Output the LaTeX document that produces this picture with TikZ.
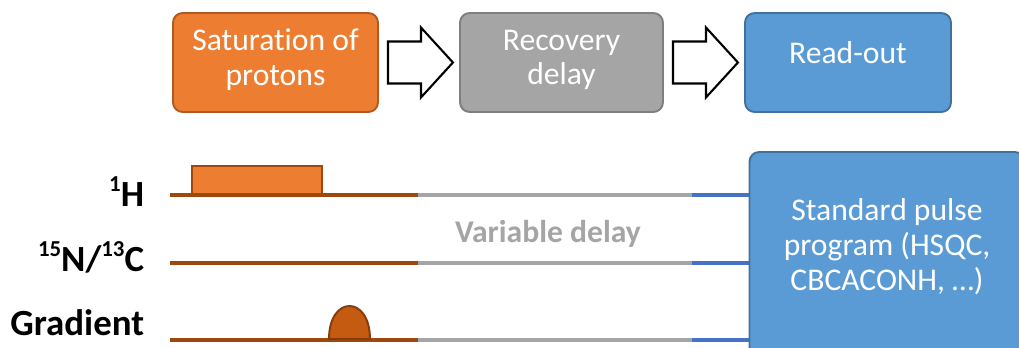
\documentclass[tikz,border=0pt]{standalone}
\usepackage{fontspec}
\setmainfont{Carlito}[Ligatures=NoCommon]
\usetikzlibrary{calc}
\definecolor{ink}{HTML}{000000}
\definecolor{satfill}{HTML}{ED7D31}
\definecolor{satdraw}{HTML}{AE5A21}
\definecolor{recfill}{HTML}{A5A5A5}
\definecolor{recdraw}{HTML}{7F7F7F}
\definecolor{readfill}{HTML}{5B9BD5}
\definecolor{readdraw}{HTML}{41719C}
\definecolor{rust}{HTML}{9E480E}
\definecolor{gradfill}{HTML}{C55A11}
\definecolor{graddraw}{HTML}{843C0C}
\definecolor{pause}{HTML}{A5A5A5}
\definecolor{acq}{HTML}{4472C4}
\newcommand{\iso}[1]{\raisebox{0.42em}{\fontsize{13}{13}\selectfont #1}}

\begin{document}
\begin{tikzpicture}[
    x=0.02cm, y=-0.02cm, line width=1.1pt, color=ink,
    stage/.style={draw, rounded corners=5.5pt, line width=1.1pt, text=white,
      minimum width=4.1cm, minimum height=1.98cm, inner sep=0pt, align=center,
      font=\fontsize{18}{19.5}\selectfont},
    blockarrow/.style={draw=ink, fill=white, line width=1.2pt, line join=miter},
    chan/.style={font=\fontsize{21}{22}\selectfont\bfseries, anchor=base east, inner sep=0pt},
    seg/.style={line width=2.2pt},
    pulse/.style={fill=satfill, draw=rust, line width=1.1pt}]
  % page: 1019 x 348 px
  \path[use as bounding box] (0,0) rectangle (1019,348);
  \clip (0,0) rectangle (1019,348);

  % ================= 1) scheme: saturation -> recovery -> read-out =================
  \node[stage, fill=satfill, draw=satdraw, text depth=6pt] (sat) at (275.5,62.5) {Saturation of\\protons};
  \node[stage, fill=recfill, draw=recdraw, minimum width=4.06cm, text depth=6pt] (rec) at (561.5,62.5) {Recovery\\delay};
  \node[stage, fill=readfill, draw=readdraw, minimum width=4.12cm, text depth=11pt] (read) at (848,62.5) {Read-out};

  % hollow block arrows between the stages
  \draw[blockarrow] ($(sat.east)+(9,-21)$) -- ++(33,0) -- ++(0,-14) -- ++(32,35)
    -- ++(-32,35) -- ++(0,-14) -- ++(-33,0) -- cycle;
  \draw[blockarrow] ($(rec.east)+(9,-21)$) -- ++(33,0) -- ++(0,-14) -- ++(32,35)
    -- ++(-32,35) -- ++(0,-14) -- ++(-33,0) -- cycle;

  % ================= 2) pulse sequence: channels =================
  \node[chan] (hlab) at (145,207) {\iso{1}H};
  \node[chan] (nclab) at (145,272) {\iso{15}N/\iso{13}C};
  \node[chan] (gzlab) at (145,336) {Gradient};

  \foreach \y in {195,263,340} {
    \draw[seg, rust] (170,\y) -- (418,\y);
    \draw[seg, pause] (418,\y) -- (692,\y);
    \draw[seg, acq] (692,\y) -- (770,\y);
  }

  % saturation pulse on 1H
  \draw[pulse] (192,194) rectangle (322,166);
  % gradient pulse
  \draw[fill=gradfill, draw=graddraw, line width=1.1pt]
    (329,339) .. controls (329,295) and (370,295) .. (370,339) -- cycle;

  \node[font=\fontsize{18}{20}\selectfont\bfseries, text=pause, anchor=base] (vd) at (548,243) {Variable delay};

  % ================= 3) read-out block =================
  \node[stage, fill=readfill, draw=readdraw, minimum width=5.5cm, minimum height=4.16cm] (prog) at (887,256) {};
  \node[font=\fontsize{18}{19.8}\selectfont, text=white, align=center] (progtxt) at (887,247)
    {Standard pulse\\program (HSQC,\\CBCACONH, …)};
\end{tikzpicture}
\end{document}
